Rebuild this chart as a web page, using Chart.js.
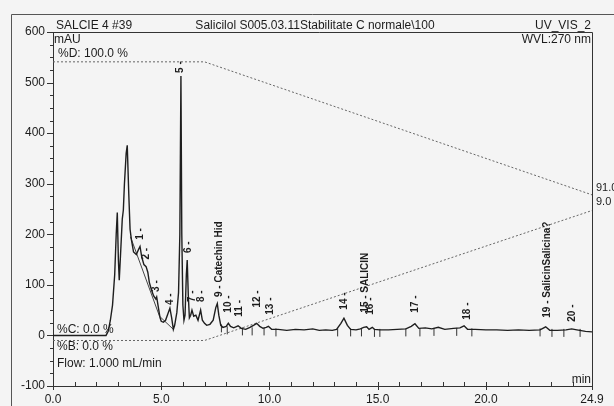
<!DOCTYPE html>
<html>
<head>
<meta charset="utf-8">
<script src="https://cdn.jsdelivr.net/npm/chart.js@4.4.1/dist/chart.umd.min.js"></script>
<style>
  html, body { margin: 0; padding: 0; background: #f4f4f4; }
  #wrap { width: 614px; height: 406px; }
</style>
</head>
<body>
<div id="wrap"><canvas id="chromChart" width="614" height="406"></canvas></div>
<script>
// retention time (min) / absorbance (mAU)
var times = [0, 2.45, 2.55, 2.65, 2.75, 2.85, 2.92, 2.97, 3.02, 3.06, 3.12, 3.2, 3.25, 3.3, 3.38, 3.43,
    3.5, 3.56, 3.62, 3.72, 3.85, 3.95, 4.02, 4.1, 4.2, 4.3, 4.38, 4.45, 4.55, 4.65, 4.75, 4.79, 4.85,
    4.94, 5.0, 5.1, 5.2, 5.3, 5.4, 5.48, 5.56, 5.62, 5.72, 5.8, 5.86, 5.91, 5.95, 6.0, 6.05, 6.1, 6.16,
    6.2, 6.25, 6.3, 6.36, 6.42, 6.5, 6.6, 6.7, 6.82, 6.9, 7.0, 7.1, 7.25, 7.4, 7.52, 7.59, 7.66, 7.75,
    7.85, 8.0, 8.1, 8.2, 8.35, 8.55, 8.7, 8.9, 9.1, 9.3, 9.41, 9.55, 9.7, 9.85, 9.95, 10.1, 10.4, 10.8,
    11.2, 11.6, 12.0, 12.3, 12.6, 12.9, 13.1, 13.3, 13.44, 13.6, 13.75, 14.0, 14.2, 14.35, 14.49, 14.6,
    14.75, 14.85, 15.1, 15.5, 15.9, 16.3, 16.55, 16.72, 16.9, 17.2, 17.5, 17.8, 18.1, 18.5, 18.8, 18.99,
    19.15, 19.5, 20.0, 20.5, 21.0, 21.5, 22.0, 22.5, 22.76, 22.95, 23.3, 23.7, 23.96, 24.2, 24.6, 24.9];
var mau = [0, 0, 8, 30, 60, 120, 200, 243, 150, 109, 160, 230, 248, 300, 360, 376,
    280, 210, 190, 165, 160, 170, 176, 155, 140, 136, 125, 105, 90, 78, 72, 76, 60,
    36, 28, 26, 30, 42, 54, 35, 12, 20, 45, 85, 200, 513, 200, 60, 30, 40, 120,
    149, 80, 35, 40, 50, 38, 40, 30, 50, 30, 24, 20, 22, 30, 55, 63, 40, 20,
    16, 18, 24, 18, 15, 19, 14, 12, 16, 21, 24, 18, 14, 16, 18, 12, 12, 10,
    12, 11, 13, 10, 11, 10, 12, 24, 34, 20, 12, 11, 13, 16, 17, 12,
    16, 12, 11, 11, 12, 13, 18, 23, 14, 15, 13, 16, 12, 14, 15, 19,
    12, 12, 11, 11, 10, 11, 10, 11, 17, 10, 10, 11, 13, 11, 8, 7];

// integration baseline drawn under peaks 1-3
var baseTimes = [3.58, 4.92, 5.56];
var baseMau = [195, 38, 12];

// gradient program (%D and %B)
var gradTimes = [0, 7.0, 24.9];
var gradD = [541, 541, 278];
var gradB = [-10, -10, 247];

// peak window marks
var markTimes = [7.78, 8.05, 8.75, 9.2, 9.75, 10.3, 13.15, 13.75, 14.25, 14.85, 15.1, 16.3, 16.95,
    17.6, 18.65, 19.35, 22.5, 23.05, 23.6, 24.35];
var markMau = [14, 10, 8, 8, 8, 6, 6, 6, 6, 5, 5, 6, 6, 7, 7, 6, 6, 5, 5, 5];

// peak labels
var peakNames = ['1 -', '2 -', '3 -', '4 -', '5 -', '6 -', '7 -', '8 -', '9 - Catechin Hid', '10 -',
    '11 -', '12 -', '13 -', '14 -', '15 - SALICIN', '16 -', '17 -', '18 -', '19 - SalicinSalicina?', '20 -'];
var peakTimes = [4.02, 4.33, 4.79, 5.40, 5.89, 6.25, 6.45, 6.87, 7.67, 8.08, 8.59, 9.42, 10.03,
    13.45, 14.41, 14.65, 16.72, 19.13, 22.82, 23.98];
var peakLabelAt = [189, 150, 86, 60, 519, 163, 66, 66, 76, 45, 37, 55, 41, 51, 45, 41, 45, 31, 35, 27];

var xTicks = [0, 5, 10, 15, 20, 24.9];

function pairs(xs, ys) {
    return xs.map(function (x, i) { return {x: x, y: ys[i]}; });
}

var FONT = "'Liberation Sans', Arial, sans-serif";
var INK = '#1c1c1c';

var decor = {
    id: 'decor',
    afterDraw: function (chart) {
        var ctx = chart.ctx;
        var a = chart.chartArea;
        var xs = chart.scales.x, ys = chart.scales.y;
        ctx.save();
        ctx.strokeStyle = '#555';
        ctx.lineWidth = 1;
        // outer frame
        ctx.beginPath();
        ctx.moveTo(11.5, 406); ctx.lineTo(11.5, 14.5); ctx.lineTo(614, 14.5);
        ctx.stroke();
        // top and right edges of the plot
        ctx.strokeStyle = '#333';
        ctx.beginPath();
        ctx.moveTo(a.left - 6, Math.round(a.top) + 0.5);
        ctx.lineTo(Math.round(a.right) + 0.5, Math.round(a.top) + 0.5);
        ctx.lineTo(Math.round(a.right) + 0.5, a.bottom);
        ctx.stroke();

        // y ticks (outward)
        ctx.beginPath();
        for (var v = -100; v <= 600; v += 25) {
            var py = Math.round(ys.getPixelForValue(v)) + 0.5;
            var len = v % 100 === 0 ? 6 : 3;
            ctx.moveTo(a.left - len, py); ctx.lineTo(a.left, py);
        }
        // x ticks (minor inward, major crossing)
        for (var t = 0; t <= 24; t += 1) {
            var px = Math.round(xs.getPixelForValue(t)) + 0.5;
            if (t % 5 === 0) { ctx.moveTo(px, a.bottom - 4); ctx.lineTo(px, a.bottom + 4); }
            else { ctx.moveTo(px, a.bottom - 4); ctx.lineTo(px, a.bottom); }
        }
        var pe = Math.round(xs.getPixelForValue(24.9)) + 0.5;
        ctx.moveTo(pe, a.bottom); ctx.lineTo(pe, a.bottom + 4);
        ctx.stroke();

        // header and annotations
        ctx.fillStyle = INK;
        ctx.font = '12px ' + FONT;
        ctx.textBaseline = 'alphabetic';
        ctx.textAlign = 'left';
        ctx.fillText('SALCIE 4 #39', 56, 29);
        ctx.fillText('mAU', 54, 43);
        ctx.fillText('%D: 100.0 %', 58, 57);
        ctx.fillText('%C: 0.0 %', 57, 333);
        ctx.fillText('%B: 0.0 %', 57, 350);
        ctx.fillText('Flow: 1.000 mL/min', 57, 367);
        ctx.textAlign = 'center';
        ctx.fillText('Salicilol S005.03.11Stabilitate C normale\\100', 315, 29);
        ctx.textAlign = 'right';
        ctx.fillText('UV_VIS_2', 591, 29);
        ctx.fillText('WVL:270 nm', 591, 43);
        ctx.fillText('min', 591, 383);
        ctx.textAlign = 'left';
        ctx.font = '11px ' + FONT;
        ctx.fillText('91.0', 596, 191);
        ctx.fillText('9.0', 596, 205);

        // peak labels, rotated
        ctx.font = 'bold 10px ' + FONT;
        ctx.textBaseline = 'middle';
        ctx.textAlign = 'left';
        for (var i = 0; i < peakNames.length; i++) {
            var lx = xs.getPixelForValue(peakTimes[i]);
            var ly = ys.getPixelForValue(peakLabelAt[i]);
            ctx.save();
            ctx.translate(lx, ly);
            ctx.rotate(-Math.PI / 2);
            ctx.fillText(peakNames[i], 0, 0);
            ctx.restore();
        }
        ctx.restore();
    }
};

var ctx = document.getElementById('chromChart').getContext('2d');
new Chart(ctx, {
    type: 'line',
    data: {
        datasets: [
            {
                label: 'UV_VIS_2',
                data: pairs(times, mau),
                borderColor: '#1e1e1e',
                borderWidth: 1.4,
                pointRadius: 0,
                tension: 0
            },
            {
                label: 'baseline',
                data: pairs(baseTimes, baseMau),
                borderColor: '#444',
                borderWidth: 1,
                pointRadius: 0
            },
            {
                label: '%D',
                data: pairs(gradTimes, gradD),
                borderColor: '#666',
                borderWidth: 1,
                borderDash: [2, 2],
                pointRadius: 0
            },
            {
                label: '%B',
                data: pairs(gradTimes, gradB),
                borderColor: '#666',
                borderWidth: 1,
                borderDash: [2, 2],
                pointRadius: 0
            },
            {
                label: 'marks',
                type: 'scatter',
                data: pairs(markTimes, markMau),
                pointStyle: 'line',
                rotation: 90,
                pointRadius: 4,
                borderColor: '#333',
                borderWidth: 1,
                showLine: false
            }
        ]
    },
    options: {
        responsive: false,
        animation: false,
        devicePixelRatio: 1,
        layout: {padding: {top: 32, right: 22, left: 0, bottom: 0}},
        plugins: {legend: {display: false}, tooltip: {enabled: false}},
        scales: {
            x: {
                type: 'linear',
                min: 0,
                max: 24.9,
                afterBuildTicks: function (scale) {
                    scale.ticks = xTicks.map(function (v) { return {value: v}; });
                },
                afterFit: function (scale) { scale.height = 20; },
                ticks: {
                    autoSkip: false,
                    maxRotation: 0,
                    padding: 6,
                    color: INK,
                    font: {family: FONT, size: 12},
                    callback: function (v) { return Number(v).toFixed(1); }
                },
                grid: {drawOnChartArea: false, drawTicks: false},
                border: {color: '#333', width: 1}
            },
            y: {
                min: -100,
                max: 600,
                afterFit: function (scale) { scale.width = 53; },
                ticks: {
                    stepSize: 100,
                    padding: 8,
                    color: INK,
                    font: {family: FONT, size: 12}
                },
                grid: {drawOnChartArea: false, drawTicks: false},
                border: {color: '#333', width: 1}
            }
        }
    },
    plugins: [decor]
});
</script>
</body>
</html>
